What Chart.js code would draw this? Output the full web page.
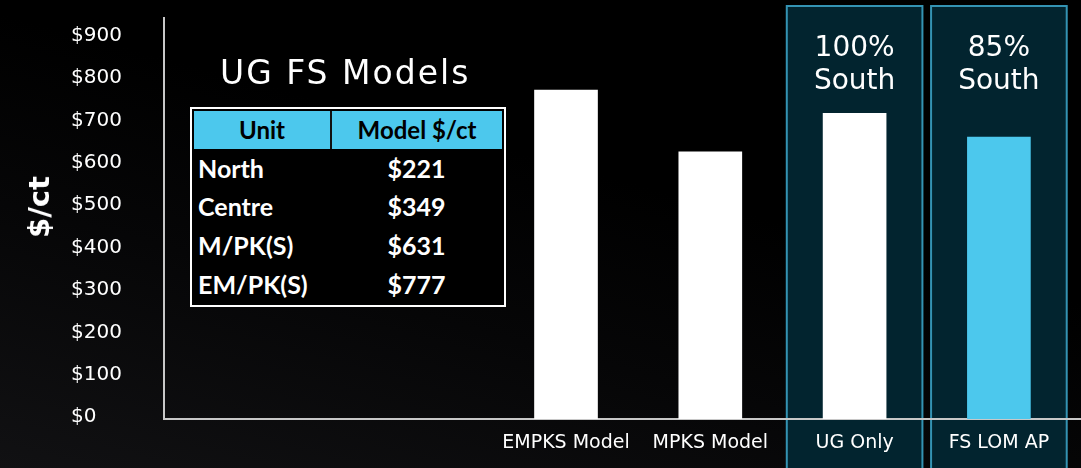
<!DOCTYPE html>
<html lang="en">
<head>
<meta charset="UTF-8">
<title>UG FS Models $/ct</title>
<style>
  html,body { margin:0; padding:0; }
  body { width:1081px; height:468px; overflow:hidden; position:relative; color:#fff;
         background:linear-gradient(15deg,#111113 0%,#060607 35%,#000 60%); font-family:'DejaVu Sans',sans-serif; }
  #chart { position:absolute; left:0; top:0; }
  .ytitle { position:absolute; left:39px; top:207px; transform:translate(-50%,-50%) rotate(-90deg);
            font-weight:bold; font-size:29px; white-space:nowrap; }
  .models-title { position:absolute; left:220px; top:53px; font-size:33px; letter-spacing:2px; white-space:nowrap; }
  .models { position:absolute; left:190px; top:107px; width:316px; height:200px; box-sizing:border-box;
            border:2px solid #fff; background:#000; padding:2px; }
  .models table { width:100%; height:100%; border-collapse:collapse; font-family:Lato,sans-serif; font-weight:bold; font-size:25px; }
  .models th { background:#4cc8ed; color:#000; height:37px; padding:0; text-align:center; font-size:24px; }
  .models th:first-child { width:136px; border-right:2px solid #111; }
  .models td { color:#fff; padding:0; height:38px; }
  .models td:first-child { padding-left:4px; }
  .models td:last-child { text-align:center; }
</style>
</head>
<body>

<canvas id="chart" width="1081" height="468"></canvas>
<div class="ytitle">$/ct</div>
<div class="models-title">UG FS Models</div>
<div class="models"><table id="modelTable"></table></div>

<script src="https://cdn.jsdelivr.net/npm/chart.js"></script>
<script>
// bars
const categories = ['EMPKS Model', 'MPKS Model', 'UG Only', 'FS LOM AP'];
const costPerCt = [777, 631, 722, 666];
const barColors = ['#ffffff', '#ffffff', '#ffffff', '#4cc8ed'];
const yTicks = [0, 100, 200, 300, 400, 500, 600, 700, 800, 900];

// highlighted columns
const highlightIdx = [2, 3];
const highlightText = [['100%', 'South'], ['85%', 'South']];

// inset table
const tableHead = ['Unit', 'Model $/ct'];
const tableUnits = ['North', 'Centre', 'M/PK(S)', 'EM/PK(S)'];
const tableValues = [221, 349, 631, 777];

const tbl = document.getElementById('modelTable');
tbl.innerHTML = '<tr>' + tableHead.map(h => '<th>' + h + '</th>').join('') + '</tr>' +
  tableUnits.map((u, i) => '<tr><td>' + u + '</td><td>$' + tableValues[i] + '</td></tr>').join('');

const font = 'DejaVu Sans';

const highlightBoxes = {
  id: 'highlightBoxes',
  beforeDraw(chart) {
    const c = chart.ctx, xs = chart.scales.x;
    c.save();
    highlightIdx.forEach((idx, k) => {
      const l = xs.getPixelForValue(idx - 0.47), r = xs.getPixelForValue(idx + 0.47);
      c.fillStyle = '#02242f';
      c.fillRect(l, 6, r - l, 470);
      c.strokeStyle = '#3493b3';
      c.lineWidth = 2;
      c.strokeRect(l, 6, r - l, 470);
      c.fillStyle = '#fff';
      c.font = '28px "' + font + '"';
      c.textAlign = 'center';
      c.textBaseline = 'alphabetic';
      const cx = xs.getPixelForValue(idx);
      c.fillText(highlightText[k][0], cx, 56);
      c.fillText(highlightText[k][1], cx, 89);
    });
    c.restore();
  }
};

new Chart(document.getElementById('chart'), {
  type: 'bar',
  data: {
    datasets: [{
      data: categories.map((c, i) => ({ x: i, y: costPerCt[i] })),
      backgroundColor: barColors,
      barThickness: 63
    }]
  },
  options: {
    responsive: false,
    animation: false,
    layout: { padding: { left: 71, top: 18, right: 0, bottom: 0 } },
    plugins: { legend: { display: false }, tooltip: { enabled: false } },
    scales: {
      x: {
        type: 'linear', min: -2.786, max: 3.569, offset: false,
        grid: { display: false, drawTicks: false, offset: false },
        border: { color: '#c8c8c8', width: 2 },
        afterBuildTicks: s => { s.ticks = categories.map((c, i) => ({ value: i })); },
        afterFit: s => { s.height = 49; },
        ticks: { color: '#fff', font: { family: font, size: 19 }, padding: 13, autoSkip: false, maxRotation: 0,
                 callback: v => categories[v] ?? '' }
      },
      y: {
        min: 0, max: 947,
        grid: { display: false, drawTicks: false },
        border: { color: '#c8c8c8', width: 2 },
        afterBuildTicks: s => { s.ticks = yTicks.map(v => ({ value: v })); },
        afterFit: s => { s.width = 93; },
        ticks: { color: '#fff', font: { family: font, size: 20 }, crossAlign: 'far', labelOffset: -2,
                 callback: v => '$' + v }
      }
    }
  },
  plugins: [highlightBoxes]
});
</script>
</body>
</html>
